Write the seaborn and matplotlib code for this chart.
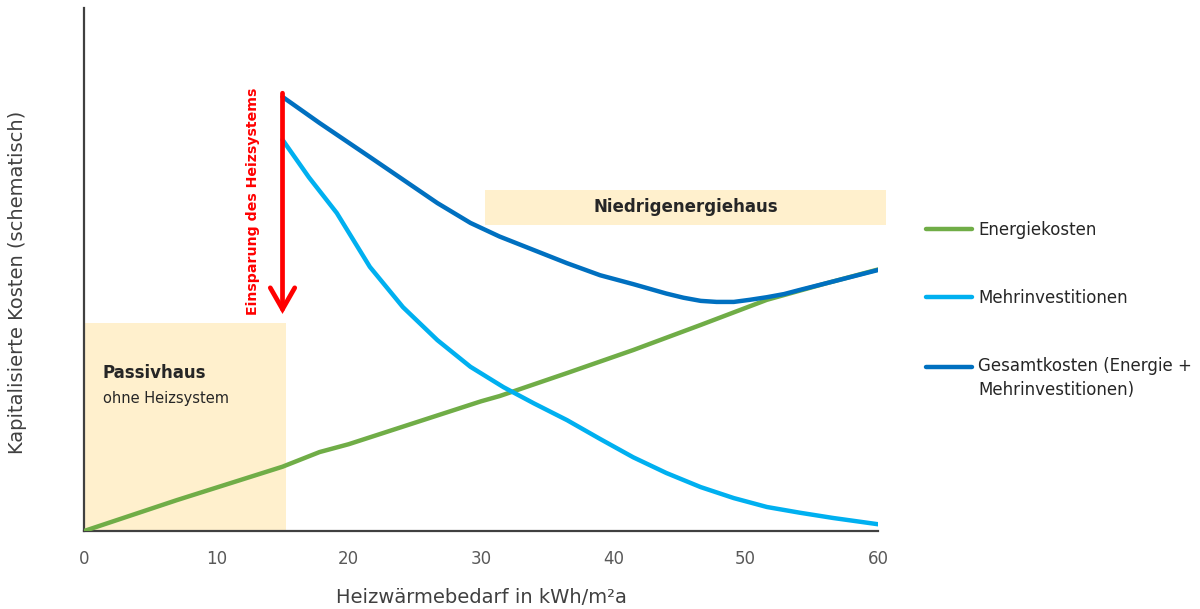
import matplotlib
matplotlib.use("Agg")
import matplotlib.pyplot as plt
from matplotlib.patches import Rectangle, ArrowStyle
from matplotlib.legend_handler import HandlerLine2D
import pandas as pd
import seaborn as sns

# Heizwärmebedarf (kWh/m²a) and schematic capitalised costs
energie_x = [0, 7, 15, 17.8, 20, 25, 30, 31.4, 36.5, 41.5, 46.6, 51.6, 56, 60]
energie_y = [0, 5.9, 12.3, 15.1, 16.6, 20.7, 24.8, 25.8, 30.2, 34.6, 39.4, 44.2, 47.3, 50]

mehr_x = [15, 17.0, 19.1, 21.6, 24.1, 26.7, 29.2, 31.7, 34.0, 36.5, 39.0, 41.5,
          44.0, 46.6, 49.1, 51.6, 54.1, 56.6, 60]
mehr_y = [74.8, 67.6, 60.8, 50.5, 42.8, 36.5, 31.4, 27.5, 24.4, 21.2, 17.6, 14.1,
          11.1, 8.4, 6.3, 4.6, 3.5, 2.5, 1.3]

gesamt_x = [15, 17.8, 21.6, 26.7, 29.2, 31.4, 34.0, 36.5, 39.0, 41.5, 44.0, 45.3,
            46.6, 47.8, 49.1, 50.3, 51.6, 52.9, 54.1, 56.6, 60]
gesamt_y = [83.0, 78.0, 71.5, 62.7, 58.9, 56.3, 53.7, 51.2, 48.9, 47.2, 45.4, 44.6,
            44.0, 43.8, 43.8, 44.2, 44.7, 45.3, 46.1, 47.7, 49.9]

series_names = ["Energiekosten", "Mehrinvestitionen",
                "Gesamtkosten (Energie +\nMehrinvestitionen)"]
series_colors = ["#70AD47", "#00B0F0", "#0070C0"]
x_ticks = [0, 10, 20, 30, 40, 50, 60]

# Zones and annotation
passiv_zone = (0, 15.3, 39.8)            # x0, x1, height
niedrig_zone = (30.3, 60.6, 58.5, 65.2)  # x0, x1, y0, y1
einsparung = (15, 83.7, 41.5)            # x, y_start, y_end

frames = []
for name, xs, ys in zip(series_names, [energie_x, mehr_x, gesamt_x],
                        [energie_y, mehr_y, gesamt_y]):
    frames.append(pd.DataFrame({"x": xs, "y": ys, "Reihe": name}))
df = pd.concat(frames, ignore_index=True)

sns.set_theme(style="white")
plt.rcParams["font.family"] = ["DejaVu Sans"]

fig = plt.figure(figsize=(12, 6.09), dpi=100)
ax = fig.add_axes([0.07, 0.128, 0.6617, 0.859])

beige = "#FFF0CD"
ax.add_patch(Rectangle((passiv_zone[0], 0), passiv_zone[1] - passiv_zone[0],
                       passiv_zone[2], facecolor=beige, edgecolor="none", zorder=0))
ax.add_patch(Rectangle((niedrig_zone[0], niedrig_zone[2]),
                       niedrig_zone[1] - niedrig_zone[0],
                       niedrig_zone[3] - niedrig_zone[2],
                       facecolor=beige, edgecolor="none", zorder=0, clip_on=False))

sns.lineplot(data=df, x="x", y="y", hue="Reihe", hue_order=series_names,
             palette=series_colors, estimator=None, sort=False,
             linewidth=3.2, ax=ax, legend=True, zorder=3)
for line in ax.lines:
    line.set_solid_capstyle("round")
    line.set_solid_joinstyle("round")

ax.set_xlim(0, 60)
ax.set_ylim(0, 100)
ax.set_xticks(x_ticks)
ax.set_xticklabels([str(t) for t in x_ticks])
ax.set_yticks([])
ax.tick_params(axis="x", length=0, pad=14, labelsize=12, labelcolor="#595959")
for side in ["top", "right"]:
    ax.spines[side].set_visible(False)
for side in ["left", "bottom"]:
    ax.spines[side].set_color("#404040")
    ax.spines[side].set_linewidth(1.6)

ax.set_xlabel("Heizwärmebedarf in kWh/m²a", fontsize=14, color="#404040", labelpad=14)
ax.set_ylabel("Kapitalisierte Kosten (schematisch)", fontsize=14, color="#404040")
ax.yaxis.set_label_coords(-0.072, 0.476)

# Zone labels
ax.text(1.4, 30.2, "Passivhaus", fontsize=12, fontweight="bold", color="#262626",
        va="center", ha="left")
ax.text(1.4, 25.4, "ohne Heizsystem", fontsize=10.5, color="#262626",
        va="center", ha="left")
ax.text(45.5, 61.9, "Niedrigenergiehaus", fontsize=12, fontweight="bold",
        color="#262626", va="center", ha="center")

# Savings arrow
ax.annotate("", xy=(einsparung[0], einsparung[2]), xytext=(einsparung[0], einsparung[1]),
            arrowprops=dict(arrowstyle=ArrowStyle("->", head_length=0.7, head_width=0.4),
                            color="#FF0000", lw=3.4, mutation_scale=22,
                            shrinkA=0, shrinkB=0, joinstyle="miter"), zorder=4)
ax.text(12.8, 63.1, "Einsparung des Heizsystems", rotation=90, fontsize=10.2,
        fontweight="bold", color="#FF0000", ha="center", va="center")


class FirstLineHandler(HandlerLine2D):
    """Line handle placed level with the first line of a two-line label."""

    def __init__(self, lift, **kw):
        super().__init__(**kw)
        self.lift = lift

    def create_artists(self, legend, orig_handle, xdescent, ydescent, width, height,
                       fontsize, trans):
        return super().create_artists(legend, orig_handle, xdescent,
                                      ydescent - self.lift * fontsize, width, height,
                                      fontsize, trans)


handles, labels = ax.get_legend_handles_labels()
ax.get_legend().remove()
leg_size = 12
line_gap = 1.45
leg = fig.legend(handles, labels, loc="upper left",
                 bbox_to_anchor=(926 / 1200, 1 - 221 / 609),
                 frameon=False, fontsize=leg_size, handlelength=2.75, handletextpad=0.4,
                 labelspacing=3.0, borderpad=0, borderaxespad=0, labelcolor="#262626",
                 handler_map={handles[2]: FirstLineHandler(lift=line_gap * 1.0)})
for txt in leg.get_texts():
    txt.set_linespacing(line_gap)
for h in leg.legend_handles:
    h.set_linewidth(3.2)
    h.set_solid_capstyle("round")

fig.savefig("out.png", dpi=100)
